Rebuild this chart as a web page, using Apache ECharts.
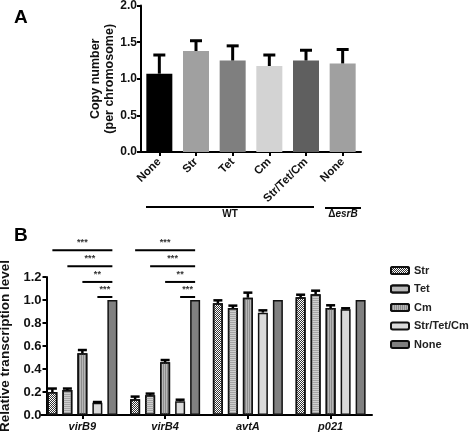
<!DOCTYPE html>
<html><head><meta charset="utf-8">
<script src="https://cdn.jsdelivr.net/npm/echarts@6/dist/echarts.min.js"></script>
<style>html,body{margin:0;padding:0;background:#fff}#c{width:472px;height:436px}</style>
</head><body><div id="c"></div>
<script>
// Panel A data
const catsA = ['None', 'Str', 'Tet', 'Cm', 'Str/Tet/Cm', 'None'];
const copyMean = [1.07, 1.38, 1.25, 1.175, 1.25, 1.21];
const copyErr = [1.325, 1.52, 1.45, 1.325, 1.39, 1.40];
const ticksA = [0, 0.5, 1.0, 1.5, 2.0];
// Panel B data
const genes = ['virB9', 'virB4', 'avtA', 'p021'];
const treatments = ['Str', 'Tet', 'Cm', 'Str/Tet/Cm', 'None'];
const relStr = [0.20, 0.136, 0.971, 1.023];
const relTet = [0.217, 0.171, 0.930, 1.049];
const relCm = [0.536, 0.458, 1.02, 0.93];
const relSTC = [0.107, 0.119, 0.89, 0.919];
const relNone = [1.0, 1.0, 1.0, 1.0];
const errStr = [0.23, 0.16, 0.997, 1.046];
const errTet = [0.23, 0.186, 0.951, 1.081];
const errCm = [0.565, 0.478, 1.064, 0.954];
const errSTC = [0.113, 0.133, 0.91, 0.928];
const errNone = [null, null, null, null];
// significance: [gene index, from treatment index, level, stars]
const sigs = [
  [0, 0, 1.432, '***'], [0, 1, 1.293, '***'], [0, 2, 1.157, '**'], [0, 3, 1.026, '***'],
  [1, 0, 1.432, '***'], [1, 1, 1.293, '***'], [1, 2, 1.157, '**'], [1, 3, 1.026, '***']
];

const FONT = 'Liberation Sans, Arial, sans-serif';
const colorsA = ['#000000', '#a0a0a0', '#7f7f7f', '#d3d3d3', '#5f5f5f', '#a0a0a0'];
const BW = 10, GAP = 5;
function barOffset(i) { return (i - 2) * (BW + GAP); }

const bVals = [relStr, relTet, relCm, relSTC, relNone];
const bErrs = [errStr, errTet, errCm, errSTC, errNone];
const bStyles = [
  {color: '#ffffff', decal: {symbol: 'rect', symbolSize: 1, color: '#333333', dashArrayX: [[1, 1], [0, 1, 1, 0]], dashArrayY: [1, 0]}},
  {color: '#cfcfcf', decal: {symbol: 'rect', symbolSize: 1, color: '#a5a5a5', dashArrayX: [1, 0], dashArrayY: [1, 1]}},
  {color: '#b8b8b8', decal: {symbol: 'rect', symbolSize: 1, color: '#8c8c8c', dashArrayX: [1, 0], dashArrayY: [1, 1], rotation: Math.PI / 2}},
  {color: '#dadada'},
  {color: '#808080'}
];

const series = [];
// Panel A bars
series.push({
  name: 'Copy number', type: 'bar', xAxisIndex: 0, yAxisIndex: 0, barWidth: 26,
  data: copyMean.map((v, i) => ({value: v, itemStyle: {color: colorsA[i]}}))
});
series.push({
  type: 'custom', xAxisIndex: 0, yAxisIndex: 0, z: 3,
  data: copyMean.map((v, i) => [i, v, copyErr[i]]),
  renderItem: function (p, api) {
    const a = api.coord([api.value(0), api.value(1)]);
    const b = api.coord([api.value(0), api.value(2)]);
    return {type: 'group', children: [
      {type: 'line', shape: {x1: a[0], y1: a[1], x2: b[0], y2: b[1]}, style: {stroke: '#000', lineWidth: 3}},
      {type: 'line', shape: {x1: b[0] - 6, y1: b[1], x2: b[0] + 6, y2: b[1]}, style: {stroke: '#000', lineWidth: 3}}
    ]};
  }
});
// Panel B bars
treatments.forEach((t, si) => {
  series.push({
    name: t, type: 'bar', xAxisIndex: 1, yAxisIndex: 1, barWidth: BW, barGap: '50%',
    itemStyle: Object.assign({borderColor: '#111', borderWidth: 1.5}, bStyles[si]),
    data: bVals[si]
  });
});
const errData = [];
bVals.forEach((arr, si) => arr.forEach((v, gi) => { if (bErrs[si][gi] != null) errData.push([gi, v, bErrs[si][gi], si]); }));
series.push({
  type: 'custom', xAxisIndex: 1, yAxisIndex: 1, z: 3, data: errData,
  renderItem: function (p, api) {
    const si = api.value(3);
    const a = api.coord([api.value(0), api.value(1)]);
    const b = api.coord([api.value(0), api.value(2)]);
    const x = a[0] + barOffset(si);
    return {type: 'group', children: [
      {type: 'line', shape: {x1: x, y1: a[1], x2: x, y2: b[1]}, style: {stroke: '#000', lineWidth: 2.5}},
      {type: 'line', shape: {x1: x - 4.5, y1: b[1], x2: x + 4.5, y2: b[1]}, style: {stroke: '#000', lineWidth: 2.5}}
    ]};
  }
});
series.push({
  type: 'custom', xAxisIndex: 1, yAxisIndex: 1, z: 3, clip: false,
  data: sigs.map(s => [s[0], s[1], s[2], s[3]]),
  renderItem: function (p, api) {
    const g = api.value(0), fi = api.value(1);
    const c = api.coord([g, api.value(2)]);
    const x1 = c[0] + barOffset(fi), x2 = c[0] + barOffset(4);
    return {type: 'group', children: [
      {type: 'line', shape: {x1: x1, y1: c[1], x2: x2, y2: c[1]}, style: {stroke: '#000', lineWidth: 2}},
      {type: 'text', style: {x: (x1 + x2) / 2, y: c[1] - 3, text: sigs[p.dataIndex][3], align: 'center', verticalAlign: 'bottom', fill: '#333', font: 'bold 9px ' + FONT}}
    ]};
  }
});

const axisLine = {show: true, lineStyle: {color: '#000', width: 2}};
const axisTick = {show: true, length: 4, lineStyle: {color: '#000', width: 2}};

const option = {
  animation: false,
  textStyle: {fontFamily: FONT},
  grid: [
    {left: 141, right: 111, top: 5.6, bottom: 284, containLabel: false, outerBoundsMode: 'none'},
    {left: 41, right: 100, top: 277, bottom: 21, containLabel: false, outerBoundsMode: 'none'}
  ],
  legend: {
    data: treatments, orient: 'vertical', left: 385, top: 260, itemWidth: 18, itemHeight: 7, itemGap: 7.5,
    textStyle: {fontFamily: FONT, fontWeight: 'bold', fontSize: 11, color: '#222'}
  },
  xAxis: [
    {type: 'category', gridIndex: 0, data: catsA, axisLine: axisLine, axisTick: Object.assign({alignWithLabel: true}, axisTick),
     axisLabel: {rotate: 45, interval: 0, margin: 8, fontWeight: 'bold', fontSize: 11.5, color: '#111', fontFamily: FONT}},
    {type: 'category', gridIndex: 1, data: genes, axisLine: axisLine, axisTick: Object.assign({alignWithLabel: true}, axisTick),
     axisLabel: {interval: 0, margin: 6, fontWeight: 'bold', fontStyle: 'italic', fontSize: 11, color: '#111', fontFamily: FONT}}
  ],
  yAxis: [
    {type: 'value', gridIndex: 0, min: 0, max: 2, interval: 0.5, splitLine: {show: false}, axisLine: axisLine, axisTick: axisTick,
     axisLabel: {formatter: v => v.toFixed(1), fontWeight: 'bold', fontSize: 12, color: '#111', margin: 4, fontFamily: FONT},
     name: 'Copy number\n(per chromosome)', nameLocation: 'middle', nameGap: 24,
     nameTextStyle: {fontWeight: 'bold', fontSize: 12.5, color: '#111', lineHeight: 14, fontFamily: FONT}},
    {type: 'value', gridIndex: 1, min: 0, max: 1.2, interval: 0.2, offset: -5.5, splitLine: {show: false}, axisLine: axisLine, axisTick: axisTick,
     axisLabel: {formatter: v => v.toFixed(1), fontWeight: 'bold', fontSize: 13, color: '#111', margin: 5, fontFamily: FONT},
     name: 'Relative transcription level', nameLocation: 'middle', nameGap: 30,
     nameTextStyle: {fontWeight: 'bold', fontSize: 13.5, color: '#111', fontFamily: FONT}}
  ],
  graphic: [
    {type: 'text', left: 14, top: 8, style: {text: 'A', font: 'bold 19px ' + FONT, fill: '#000'}},
    {type: 'text', left: 14, top: 226, style: {text: 'B', font: 'bold 19px ' + FONT, fill: '#000'}},
    {type: 'line', shape: {x1: 146, y1: 207, x2: 314, y2: 207}, style: {stroke: '#000', lineWidth: 2}},
    {type: 'text', x: 230, y: 209, style: {text: 'WT', align: 'center', font: 'bold 10px ' + FONT, fill: '#111'}},
    {type: 'line', shape: {x1: 325, y1: 208, x2: 361, y2: 208}, style: {stroke: '#000', lineWidth: 2}},
    {type: 'text', x: 343, y: 209, style: {rich: {d: {font: 'bold 10px ' + FONT}, e: {font: 'italic bold 10px ' + FONT}}, text: '{d|Δ}{e|esrB}', align: 'center', fill: '#111'}}
  ],
  series: series
};
const chart = echarts.init(document.getElementById('c'));
chart.setOption(option);
</script></body></html>
